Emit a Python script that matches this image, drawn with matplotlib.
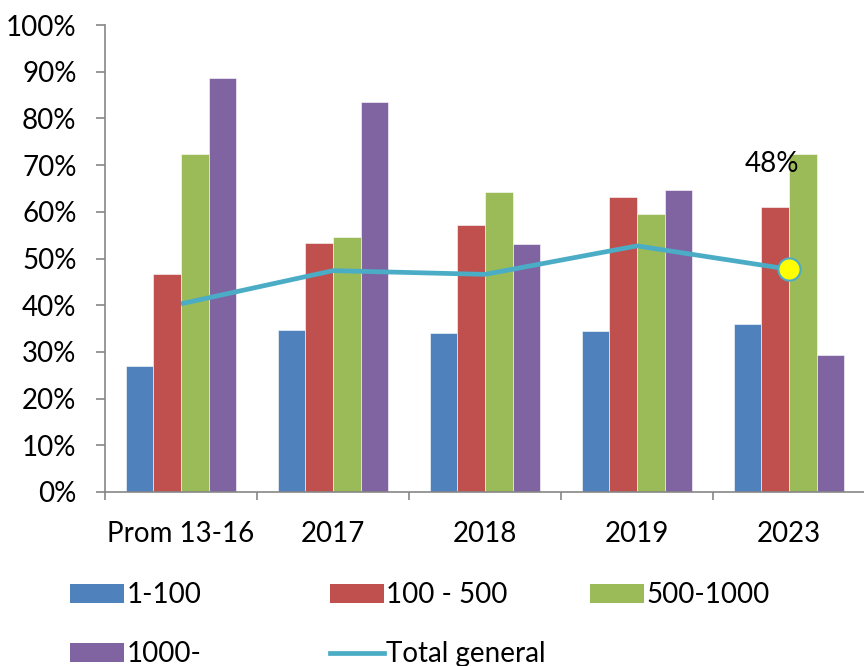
import matplotlib
matplotlib.use("Agg")
import matplotlib.pyplot as plt
from matplotlib.patches import Patch
from matplotlib.lines import Line2D
from matplotlib.ticker import PercentFormatter, FixedLocator
import numpy as np

categories = ["Prom 13-16", "2017", "2018", "2019", "2023"]
series_names = ["1-100", "100 - 500", "500-1000", "1000-"]
s_1_100 = [27.0, 34.7, 34.0, 34.5, 36.0]
s_100_500 = [46.6, 53.3, 57.1, 63.2, 61.0]
s_500_1000 = [72.4, 54.6, 64.3, 59.5, 72.4]
s_1000 = [88.6, 83.5, 53.1, 64.7, 29.3]
total_general = [40.3, 47.4, 46.6, 52.7, 47.7]

colors = ["#4F81BD", "#C0504D", "#9BBB59", "#8064A2"]
line_color = "#4BACC6"
grey = "#868686"
font = "Lato"
fs = 20

plt.rcParams["font.family"] = [font, "DejaVu Sans"]

fig = plt.figure(figsize=(8.64, 6.66), dpi=100)
ax = fig.add_axes([105 / 864, 1 - 492 / 666, 760 / 864, 467 / 666])

x = np.arange(len(categories))
width = 0.182
all_series = [s_1_100, s_100_500, s_500_1000, s_1000]
for k, vals in enumerate(all_series):
    ax.bar(x + (k - 1.5) * width, vals, width, color=colors[k],
           edgecolor="white", linewidth=0.4, zorder=2)

ax.plot(x, total_general, color=line_color, linewidth=3.4, zorder=3,
        solid_capstyle="butt")
ax.plot(x[-1], total_general[-1], marker="o", markersize=16,
        markerfacecolor="yellow", markeredgecolor=line_color,
        markeredgewidth=1.5, zorder=4)
ax.annotate(f"{round(total_general[-1])}%", (x[-1], total_general[-1]),
            xytext=(-12, 76), textcoords="offset points",
            ha="center", va="center", fontsize=fs)

ax.set_xlim(-0.5, 4.5)
ax.set_ylim(0, 100)
ax.set_yticks(np.arange(0, 101, 10))
ax.yaxis.set_major_formatter(PercentFormatter(decimals=0))

ax.set_xticks(x)
ax.set_xticklabels(categories)
ax.xaxis.set_minor_locator(FixedLocator(np.arange(-0.5, 5, 1)))

for side in ["top", "right"]:
    ax.spines[side].set_visible(False)
for side in ["left", "bottom"]:
    ax.spines[side].set_color(grey)
    ax.spines[side].set_linewidth(1.2)

ax.tick_params(axis="y", colors=grey, length=6.5, width=1.2, pad=14,
               labelsize=fs, labelcolor="black")
ax.tick_params(axis="x", which="major", length=0, pad=21,
               labelsize=fs, labelcolor="black")
ax.tick_params(axis="x", which="minor", colors=grey, length=6, width=1.2)

handles = [Patch(facecolor=c) for c in colors]
line_handle = Line2D([], [], color=line_color, linewidth=3.4)

legend_kw = dict(frameon=False, fontsize=fs, handlelength=1.95,
                 handleheight=0.7, handletextpad=0.08, labelspacing=1.2,
                 loc="upper left", borderaxespad=0, borderpad=0)
col_x = [70, 330, 590]
top_y = 1 - 582 / 666
fig.legend([handles[0], handles[3]], [series_names[0], series_names[3]],
           bbox_to_anchor=(col_x[0] / 864, top_y), **legend_kw)
fig.legend([handles[1], line_handle], [series_names[1], "Total general"],
           bbox_to_anchor=(col_x[1] / 864, top_y), **legend_kw)
fig.legend([handles[2]], [series_names[2]],
           bbox_to_anchor=(col_x[2] / 864, top_y), **legend_kw)

plt.savefig("out.png", dpi=100)
plt.close()
